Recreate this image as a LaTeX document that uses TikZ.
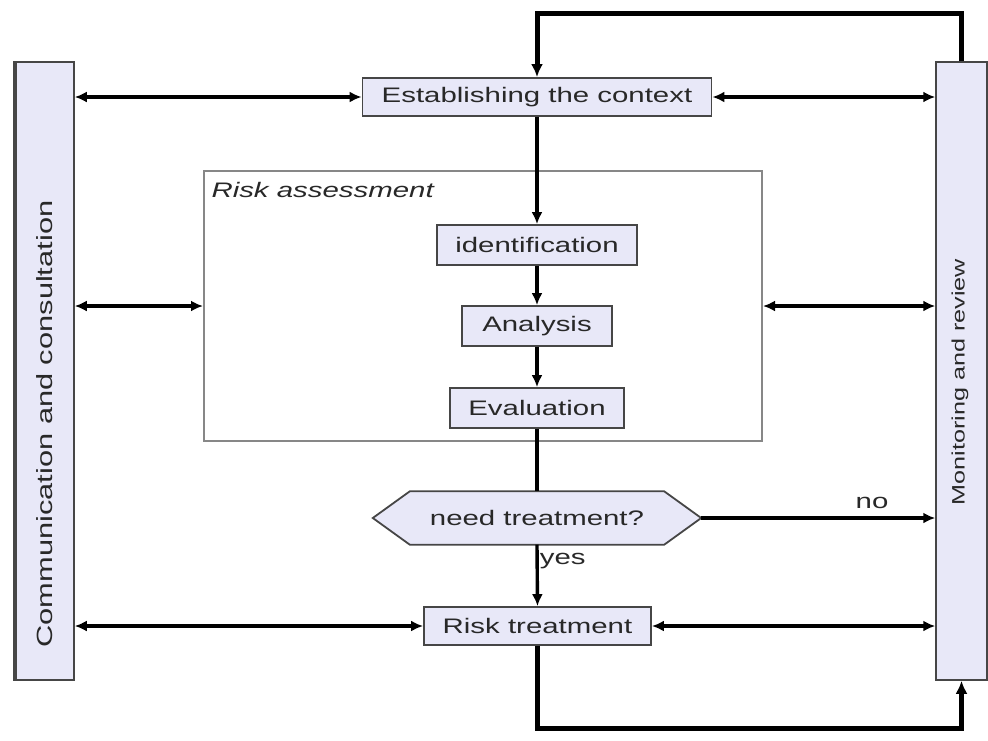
\documentclass[tikz,border=0pt]{standalone}
\usepackage{fontspec}
\setmainfont{Liberation Sans}[FakeStretch=1.4]
\usetikzlibrary{arrows.meta,backgrounds}
\definecolor{boxfill}{RGB}{232,232,248}
\definecolor{boxline}{RGB}{70,70,70}
\definecolor{txt}{RGB}{40,40,40}
\definecolor{framegray}{RGB}{135,135,135}

\begin{document}
\begin{tikzpicture}[x=1pt,y=-1pt,
  every node/.style={font=\fontsize{21}{25}\selectfont, text=txt},
  stepbox/.style={draw=boxline, line width=1.8pt, fill=boxfill, inner sep=0pt},
  sidebar/.style={draw=boxline, line width=1.5pt, fill=boxfill, inner sep=0pt,
                  minimum width=#1, minimum height=618},
  link/.style={line width=3.4pt, draw=black},
  arr/.style={link, -{Latex[length=12pt,width=11pt]}},
  both/.style={link, {Latex[length=12pt,width=11pt]}-{Latex[length=12pt,width=11pt]}},
  feedback/.style={line width=5pt, draw=black, -{Latex[length=13pt,width=12pt]}},
]
\useasboundingbox (0,0) rectangle (988,740);

% side bars
\node[sidebar=59] (comm) at (44.5,371) {};
\node[rotate=90, font=\fontsize{22}{26}\selectfont] (commtext) at (45,424) {Communication and consultation};
\draw[boxline, line width=4pt] ([xshift=1pt]comm.north west) -- ([xshift=1pt]comm.south west);
\node[sidebar=51] (mon) at (961.5,371) {};
\node[rotate=90, font=\fontsize{18}{21}\selectfont] (montext) at (960,382) {Monitoring and review};

% risk assessment frame
\node[draw=framegray, line width=2pt, fill=white, minimum width=558, minimum height=270,
      inner sep=0pt] (ra) at (483,306) {};
\node[anchor=west, font=\fontsize{21}{25}\selectfont\itshape] (ralabel) at (208,190) {Risk assessment};

% process steps
\node[stepbox, minimum width=349, minimum height=38] (est) at (537,97) {Establishing the context};
\node[stepbox, minimum width=200, minimum height=40] (ident) at (537,245) {identification};
\node[stepbox, minimum width=150, minimum height=40] (anal) at (537,326) {Analysis};
\node[stepbox, minimum width=174, minimum height=40] (eval) at (537,408) {Evaluation};
\node[stepbox, minimum width=227, minimum height=38] (rt) at (537.5,626) {Risk treatment};

% decision
\node[inner sep=0pt, minimum width=254, minimum height=53] (need) at (537,518) {need treatment?};
\coordinate (needR) at ([xshift=37pt]need.east);
\coordinate (needL) at ([xshift=-37pt]need.west);
\begin{scope}[on background layer]
  \draw[stepbox] (need.north west) -- (need.north east) -- (needR) -- (need.south east)
     -- (need.south west) -- (needL) -- cycle;
\end{scope}

% main flow
\draw[arr] (est.south) -- (ident.north);
\draw[arr] (ident.south) -- (anal.north);
\draw[arr] (anal.south) -- (eval.north);
\draw[link] (eval.south) -- (need.north);
\draw[arr] (need.south) -- node[pos=0.27, anchor=west, inner sep=1pt] (yes) {yes} (rt.north);
\draw[arr] (needR) -- node[pos=0.73, above=4pt] (no) {no} (mon.west |- needR);

% communication links
\draw[both] (comm.east |- est.west) -- (est.west);
\draw[both] (comm.east |- ra.west) -- (ra.west);
\draw[both] (comm.east |- rt.west) -- (rt.west);

% monitoring links
\draw[both] (est.east) -- (mon.west |- est.east);
\draw[both] (ra.east) -- (mon.west |- ra.east);
\draw[both] (rt.east) -- (mon.west |- rt.east);

% feedback loops
\draw[feedback] (mon.north) -- (mon.north |- 0,13) -| (est.north);
\draw[feedback] (rt.south) -- (rt.south |- 0,728) -| (mon.south);
\end{tikzpicture}
\end{document}
